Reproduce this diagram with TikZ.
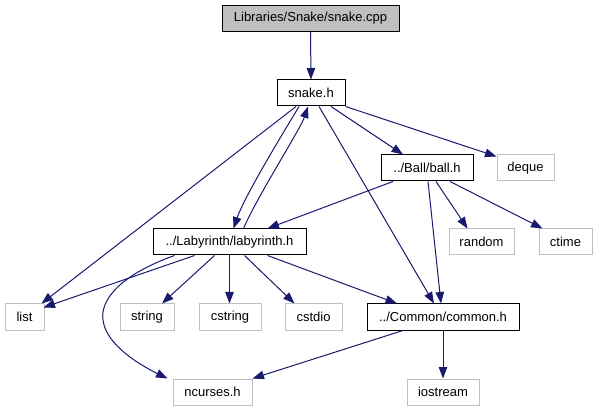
\documentclass[tikz,border=0pt]{standalone}
\usepackage{fontspec}
\setmainfont{Liberation Sans}
\usetikzlibrary{arrows.meta}
\definecolor{edgeblue}{HTML}{191970}
\definecolor{extgray}{HTML}{BFBFBF}
\tikzset{
  basebox/.style={rectangle, inner sep=0pt, minimum height=26pt, font=\fontsize{13}{15}\selectfont},
  docbox/.style={basebox, draw=black, line width=1pt},
  extbox/.style={basebox, draw=extgray, line width=1pt},
  mainbox/.style={docbox, fill=extgray},
  dep/.style={draw=edgeblue, line width=1pt, -{Triangle[length=11.5pt,width=8.5pt]}},
}
\begin{document}
\begin{tikzpicture}[x=1pt,y=-1pt]
\useasboundingbox (0,0) rectangle (599,411);
% nodes
\node[mainbox, minimum width=177pt] (cpp) at (310.5,18.5) {Libraries/Snake/snake.cpp};
\node[docbox, minimum width=68pt] (snake) at (311,93) {snake.h};
\node[docbox, minimum width=92pt] (ball) at (427,168) {../Ball/ball.h};
\node[extbox, minimum width=57pt] (deque) at (525.5,168) {deque};
\node[docbox, minimum width=153pt] (lab) at (229.5,242) {../Labyrinth/labyrinth.h};
\node[extbox, minimum width=65pt] (random) at (481.5,242) {random};
\node[extbox, minimum width=53pt] (ctime) at (565.5,242) {ctime};
\node[extbox, minimum width=39pt] (list) at (24.5,317) {list};
\node[extbox, minimum width=54pt] (string) at (147,317) {string};
\node[extbox, minimum width=62pt] (cstring) at (230,317) {cstring};
\node[extbox, minimum width=57pt] (cstdio) at (313.5,317) {cstdio};
\node[docbox, minimum width=152pt] (common) at (443,317) {../Common/common.h};
\node[extbox, minimum width=79pt] (ncurses) at (212.5,392) {ncurses.h};
\node[extbox, minimum width=72pt] (iostream) at (443,392) {iostream};
% edges
\draw[dep] (cpp.south) -- (snake.north);
\draw[dep] ([xshift=-15pt]snake.south) -- ([xshift=-3pt]list.north east);
\draw[dep] ([xshift=-12pt]snake.south) .. controls (285,130) and (245,195) .. ([xshift=4pt]lab.north);
\draw[dep] ([xshift=14pt]lab.north) .. controls (258,195) and (300,130) .. ([xshift=-3pt]snake.south);
\draw[dep] ([xshift=8pt]snake.south) -- ([xshift=-9pt]common.north);
\draw[dep] ([xshift=20pt]snake.south) -- ([xshift=-24pt]ball.north);
\draw[dep] (snake.south east) -- ([yshift=-2pt]deque.north west);
\draw[dep] ([xshift=-34pt]ball.south) -- ([xshift=38pt]lab.north);
\draw[dep] ([xshift=1pt]ball.south) -- ([xshift=-2pt]common.north);
\draw[dep] ([xshift=9pt]ball.south) -- ([xshift=-14pt]random.north);
\draw[dep] ([xshift=23pt]ball.south) -- ([xshift=-23pt]ctime.north);
\draw[dep] ([xshift=-35pt]lab.south) -- ([xshift=-1pt,yshift=-4pt]list.north east);
\draw[dep] ([xshift=-55pt]lab.south) .. controls (120,275) and (100,300) .. (103,320) .. controls (106,345) and (140,365) .. ([xshift=-45pt]ncurses.north);
\draw[dep] ([xshift=-15pt]lab.south) -- ([xshift=15pt]string.north);
\draw[dep] (lab.south) -- (lab.south |- cstring.north);
\draw[dep] ([xshift=15pt]lab.south) -- ([xshift=-19pt]cstdio.north);
\draw[dep] ([xshift=38pt]lab.south) -- ([xshift=-46pt]common.north);
\draw[dep] ([xshift=-40pt]common.south) -- (ncurses.north east);
\draw[dep] (common.south) -- (iostream.north);
\end{tikzpicture}
\end{document}
